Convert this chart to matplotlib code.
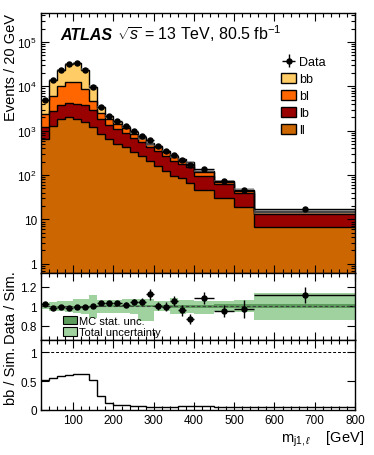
import numpy as np
import matplotlib
matplotlib.use("Agg")
import matplotlib.pyplot as plt
from matplotlib.patches import Patch
from matplotlib.ticker import MultipleLocator, LogLocator, NullFormatter, FuncFormatter, FixedLocator, NullLocator

plt.rcParams["font.family"] = ["Liberation Sans", "DejaVu Sans"]
plt.rcParams["mathtext.fontset"] = "custom"
plt.rcParams["mathtext.rm"] = "Liberation Sans"
plt.rcParams["mathtext.it"] = "Liberation Sans:italic"

# binning (GeV)
bin_edges = [20, 40, 60, 80, 100, 120, 140, 160, 180, 200, 220, 240, 260, 280,
             300, 320, 340, 360, 380, 400, 450, 500, 550, 800]

# events / 20 GeV
data = [5000, 13900, 23500, 31600, 33000, 23500, 9600, 3460, 2190, 1640, 1250,
        970, 770, 605, 465, 355, 285, 218, 168, 137, 72, 46, 17]
ll = [660, 1280, 1880, 2000, 1880, 1580, 1210, 850, 660, 505, 425, 340, 266,
      205, 163, 125, 96, 84, 68, 46, 30, 19.5, 6.7]
lb = [550, 1470, 2020, 2270, 2220, 2180, 1680, 960, 710, 565, 465, 350, 284,
      220, 182, 150, 115, 94, 82, 50, 33, 21, 6.8]
bl = [1140, 3450, 6100, 8290, 8220, 5010, 1690, 740, 500, 377, 242, 175, 137,
      83, 92, 60, 44, 35, 31, 22, 8, 4, 0.9]
bb = [2550, 7900, 13800, 19640, 20980, 14930, 4960, 800, 250, 143, 98, 65, 48,
      32, 28, 21, 16, 14, 12, 8, 4.5, 2.8, 0.8]

# relative uncertainties
data_rel_err = [0.008, 0.005, 0.004, 0.004, 0.004, 0.005, 0.008, 0.015, 0.02,
                0.022, 0.025, 0.03, 0.032, 0.05, 0.04, 0.042, 0.05, 0.06, 0.055,
                0.058, 0.067, 0.09, 0.073]
mc_stat = [0.004, 0.004, 0.004, 0.004, 0.004, 0.005, 0.006, 0.008, 0.008, 0.009,
           0.01, 0.01, 0.011, 0.012, 0.012, 0.013, 0.014, 0.015, 0.015, 0.015,
           0.018, 0.02, 0.02]
tot_up = [0.03, 0.045, 0.05, 0.055, 0.07, 0.075, 0.12, 0.065, 0.065, 0.065, 0.07,
          0.075, 0.07, 0.07, 0.05, 0.05, 0.08, 0.06, 0.06, 0.056, 0.05, 0.06, 0.14]
tot_dn = [0.03, 0.045, 0.05, 0.055, 0.07, 0.075, 0.12, 0.065, 0.065, 0.065, 0.07,
          0.075, 0.15, 0.15, 0.05, 0.05, 0.08, 0.08, 0.07, 0.075, 0.05, 0.06, 0.14]

c_bb = "#FFCC66"
c_bl = "#FF6600"
c_lb = "#990000"
c_ll = "#CC6600"
c_stat = "#5C9C5C"
c_tot = "#9FD29F"

edges = np.array(bin_edges, dtype=float)
centers = 0.5 * (edges[1:] + edges[:-1])
half_w = 0.5 * (edges[1:] - edges[:-1])
data = np.array(data, dtype=float)
ll, lb, bl, bb = (np.array(a, dtype=float) for a in (ll, lb, bl, bb))
mc = ll + lb + bl + bb
ratio = data / mc
ratio_err = ratio * np.array(data_rel_err)
up = np.array(tot_up)
dn = np.array(tot_dn)
st = np.array(mc_stat)

fig = plt.figure(figsize=(3.74, 4.56), dpi=100)
ax1 = fig.add_axes([0.1096, 0.399, 0.8396, 0.5702])
ax2 = fig.add_axes([0.1096, 0.2522, 0.8396, 0.1469])
ax3 = fig.add_axes([0.1096, 0.0987, 0.8396, 0.1535])

# ---- main panel: stacked flavour templates
layers = [(ll, c_ll), (lb, c_lb), (bl, c_bl), (bb, c_bb)]
cum = np.zeros(len(ll))
for vals, col in layers:
    top = cum + vals
    ax1.stairs(top, edges, baseline=np.maximum(cum, 0.1), fill=True, color=col, lw=0)
    cum = top
cum = np.zeros(len(ll))
for vals, col in layers:
    cum = cum + vals
    ax1.stairs(cum, edges, baseline=None, color="black", lw=1.0)
ax1.stairs(mc * (1 + up), edges, baseline=mc * (1 - dn), fill=True,
           color="#808080", alpha=0.55, lw=0)

h_data = ax1.errorbar(centers, data, yerr=data * np.array(data_rel_err), xerr=half_w,
                      fmt="o", color="black", ms=3.6, lw=1, capsize=0)

ax1.set_xlim(20, 800)
ax1.set_yscale("log")
ax1.set_ylim(0.62, 4.5e5)
ax1.set_ylabel("Events / 20 GeV", fontsize=10.5, loc="top")
ax1.yaxis.set_label_coords(-0.072, 1.0)


def log_fmt(v, pos):
    if v == 1:
        return "1"
    if v == 10:
        return "10"
    return r"$10^{%d}$" % int(round(np.log10(v)))


ax1.yaxis.set_major_locator(LogLocator(base=10, numticks=10))
ax1.yaxis.set_major_formatter(FuncFormatter(log_fmt))
ax1.yaxis.set_minor_locator(LogLocator(base=10, subs=np.arange(2, 10), numticks=20))
ax1.yaxis.set_minor_formatter(NullFormatter())

ax1.text(0.06, 0.9, "ATLAS", transform=ax1.transAxes, fontsize=11.5,
         fontweight="bold", fontstyle="italic", va="baseline")
ax1.text(0.243, 0.9, r"$\sqrt{s}$ = 13 TeV, 80.5 fb$^{-1}$", transform=ax1.transAxes,
         fontsize=11.5, va="baseline")

handles = [h_data,
           Patch(facecolor=c_bb, edgecolor="black", lw=1),
           Patch(facecolor=c_bl, edgecolor="black", lw=1),
           Patch(facecolor=c_lb, edgecolor="black", lw=1),
           Patch(facecolor=c_ll, edgecolor="black", lw=1)]
ax1.legend(handles, ["Data", "bb", "bl", "lb", "ll"], loc="upper left",
           bbox_to_anchor=(0.765, 0.835), frameon=False, fontsize=9,
           borderpad=0, borderaxespad=0, handlelength=1.2, handleheight=0.85,
           handletextpad=0.2, labelspacing=0.37)

# ---- data / simulation
ax2.stairs(1 + up, edges, baseline=1 - dn, fill=True, color=c_tot, lw=0)
ax2.stairs(1 + st, edges, baseline=1 - st, fill=True, color=c_stat, lw=0)
ax2.axhline(1, ls=(0, (3, 2)), color="#404040", lw=0.8)
ax2.errorbar(centers, ratio, yerr=ratio_err, xerr=half_w, fmt="o", color="black",
             ms=3.6, lw=1, capsize=0)
ax2.set_xlim(20, 800)
ax2.set_ylim(0.655, 1.34)
ax2.yaxis.set_major_locator(FixedLocator([0.8, 1.0, 1.2]))
ax2.yaxis.set_major_formatter(FuncFormatter(lambda v, p: "%g" % round(v, 2)))
ax2.yaxis.set_minor_locator(NullLocator())
ax2.set_ylabel("Data / Sim.", fontsize=10.5)
ax2.yaxis.set_label_coords(-0.072, 0.5)
ax2.legend([Patch(facecolor=c_stat, edgecolor="black", lw=0.8),
            Patch(facecolor=c_tot, edgecolor="black", lw=0.8)],
           ["MC stat. unc.", "Total uncertainty"], loc="lower left",
           bbox_to_anchor=(0.07, 0.04), frameon=False, fontsize=8, borderpad=0,
           borderaxespad=0, handlelength=1.3, handleheight=0.8, handletextpad=0.1,
           labelspacing=0.1)

# ---- bb fraction
ax3.stairs(bb / mc, edges, baseline=None, color="black", lw=1.0)
ax3.axhline(1, ls=(0, (3, 2)), color="black", lw=0.7)
ax3.set_xlim(20, 800)
ax3.set_ylim(0, 1.21)
ax3.yaxis.set_major_locator(FixedLocator([0, 0.5, 1.0]))
ax3.yaxis.set_major_formatter(FuncFormatter(lambda v, p: "%g" % v))
ax3.yaxis.set_minor_locator(NullLocator())
ax3.set_ylabel("bb / Sim.", fontsize=10.5)
ax3.yaxis.set_label_coords(-0.072, 0.5)
ax3.set_xlabel(r"$\mathrm{m}_{\mathrm{j1},\ell}$    [GeV]", fontsize=10.5, loc="right")
ax3.xaxis.set_label_coords(1.03, -0.27)

for ax in (ax1, ax2, ax3):
    ax.xaxis.set_major_locator(MultipleLocator(100))
    ax.xaxis.set_minor_locator(MultipleLocator(20))
    ax.tick_params(which="both", direction="in", top=True, right=True, labelsize=8.5)
    ax.tick_params(which="major", length=6, width=0.8, pad=3)
    ax.tick_params(which="minor", length=3, width=0.8)
    for s in ax.spines.values():
        s.set_linewidth(1.0)
ax1.tick_params(labelbottom=False)
ax2.tick_params(labelbottom=False)

fig.savefig("out.png", dpi=100)
